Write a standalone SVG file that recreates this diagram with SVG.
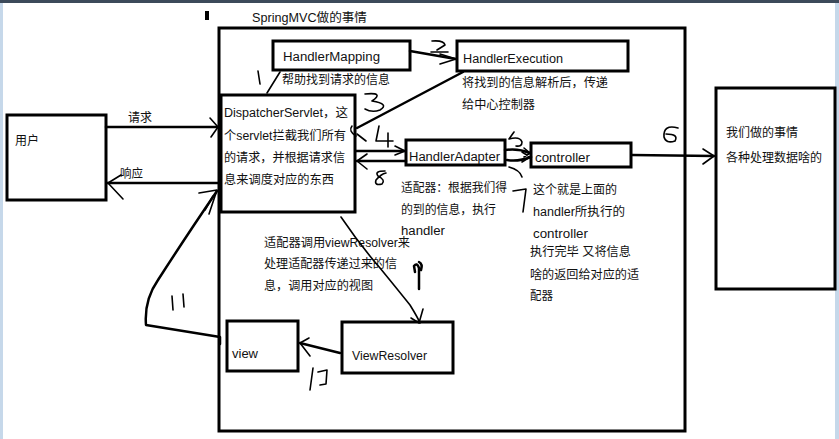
<svg xmlns="http://www.w3.org/2000/svg" width="839" height="439" viewBox="0 0 839 439">
<style>
.box{fill:#fff;stroke:#000;stroke-width:3}
text{font-family:"Liberation Sans","Noto Sans CJK SC",sans-serif;font-size:12.5px;fill:#111}
.c{fill:none;stroke:#000;stroke-width:2.5;stroke-linecap:round;stroke-linejoin:round}
.h{fill:none;stroke:#000;stroke-width:1.6;stroke-linecap:round;stroke-linejoin:round}
</style>
<rect x="0" y="0" width="839" height="439" fill="#fff"/>
<rect x="0" y="0" width="839" height="3" fill="#3c4a5a"/>
<rect x="0" y="3" width="3" height="436" fill="#c6d8ea"/>
<rect x="835" y="3" width="4" height="436" fill="#c6d8ea"/>
<rect x="205" y="11" width="4" height="9" fill="#000"/>
<text x="252" y="22" textLength="115" lengthAdjust="spacingAndGlyphs">SpringMVC做的事情</text>

<g id="container"><rect class="box" x="219" y="28" width="466" height="403"/></g>

<g id="user"><rect class="box" x="7" y="115" width="99" height="85"/><text x="15" y="145" textLength="24" lengthAdjust="spacingAndGlyphs">用户</text></g>
<g id="dispatcher"><rect class="box" x="221" y="95" width="134" height="117"/>
<text x="224" y="117" textLength="124" lengthAdjust="spacingAndGlyphs">DispatcherServlet，这</text>
<text x="224" y="140" textLength="122" lengthAdjust="spacingAndGlyphs">个servlet拦截我们所有</text>
<text x="224" y="162" textLength="121" lengthAdjust="spacingAndGlyphs">的请求，并根据请求信</text>
<text x="224" y="184" textLength="110" lengthAdjust="spacingAndGlyphs">息来调度对应的东西</text></g>
<g id="handlerMapping"><rect class="box" x="273" y="41" width="137" height="29"/><text x="283" y="61" textLength="97" lengthAdjust="spacingAndGlyphs">HandlerMapping</text></g>
<text x="282" y="84" textLength="108" lengthAdjust="spacingAndGlyphs">帮助找到请求的信息</text>
<g id="handlerExecution"><rect class="box" x="457" y="41" width="171" height="30"/><text x="463" y="63" textLength="100" lengthAdjust="spacingAndGlyphs">HandlerExecution</text></g>
<text x="462" y="87" textLength="146" lengthAdjust="spacingAndGlyphs">将找到的信息解析后，传递</text>
<text x="462" y="109" textLength="73" lengthAdjust="spacingAndGlyphs">给中心控制器</text>
<g id="handlerAdapter"><rect class="box" x="406" y="140" width="99" height="25"/><text x="409" y="161" textLength="91" lengthAdjust="spacingAndGlyphs">HandlerAdapter</text></g>
<g id="controller"><rect class="box" x="531" y="143" width="100" height="24"/><text x="535" y="162" textLength="55" lengthAdjust="spacingAndGlyphs">controller</text></g>
<g id="rightBox"><rect class="box" x="716" y="88" width="119" height="201"/>
<text x="726" y="137" textLength="72" lengthAdjust="spacingAndGlyphs">我们做的事情</text>
<text x="726" y="162" textLength="96" lengthAdjust="spacingAndGlyphs">各种处理数据啥的</text></g>
<text x="401" y="192" textLength="106" lengthAdjust="spacingAndGlyphs">适配器：根据我们得</text>
<text x="401" y="214" textLength="95" lengthAdjust="spacingAndGlyphs">的到的信息，执行</text>
<text x="401" y="235" textLength="44" lengthAdjust="spacingAndGlyphs">handler</text>
<text x="533" y="194" textLength="84" lengthAdjust="spacingAndGlyphs">这个就是上面的</text>
<text x="533" y="216" textLength="92" lengthAdjust="spacingAndGlyphs">handler所执行的</text>
<text x="533" y="238" textLength="55" lengthAdjust="spacingAndGlyphs">controller</text>
<text x="530" y="256" textLength="101" lengthAdjust="spacingAndGlyphs">执行完毕 又将信息</text>
<text x="530" y="279" textLength="109" lengthAdjust="spacingAndGlyphs">啥的返回给对应的适</text>
<text x="530" y="300" textLength="23" lengthAdjust="spacingAndGlyphs">配器</text>
<text x="264" y="247" textLength="146" lengthAdjust="spacingAndGlyphs">适配器调用viewResolver来</text>
<text x="264" y="268" textLength="133" lengthAdjust="spacingAndGlyphs">处理适配器传递过来的信</text>
<text x="264" y="290" textLength="109" lengthAdjust="spacingAndGlyphs">息，调用对应的视图</text>
<g id="viewResolver"><rect class="box" x="342" y="322" width="111" height="51"/><text x="352" y="360" textLength="75" lengthAdjust="spacingAndGlyphs">ViewResolver</text></g>
<g id="view"><rect class="box" x="227" y="321" width="71" height="50"/><text x="232" y="358" textLength="26" lengthAdjust="spacingAndGlyphs">view</text></g>

<g id="connectors">
<text x="128" y="122" textLength="24" lengthAdjust="spacingAndGlyphs">请求</text>
<path class="c" d="M106 127 H218"/>
<path class="h" d="M210 118 L218 127 L211 137"/>
<text x="120" y="178" textLength="23" lengthAdjust="spacingAndGlyphs">响应</text>
<path class="c" d="M219 183 H107"/>
<path class="h" d="M121 175 L108 183 L123 199"/>
<path class="h" d="M280 72 L267 93"/>
<path class="h" d="M258 71 L260 84"/>
<path class="c" d="M410 51 L456 59"/>
<path class="h" d="M440 54 L456 59 L440 64"/>
<path class="h" d="M432 41 Q444 40 445 45 L437 50 M431 52 L448 52"/>
<path class="c" d="M463 72 L357 128"/>
<path class="h" d="M352 126 Q348 131 356 136"/>
<path class="h" d="M357 134 L366 141"/>
<path class="h" d="M365 94 Q385 92 372 101 Q390 104 380 110 Q372 113 365 109"/>
<path class="h" d="M379 126 L376 141 L393 141 M388 133 L388 147"/>
<path class="c" d="M356 151 H405"/>
<path class="h" d="M395 146 L405 151 L395 155"/>
<path class="c" d="M406 161 H357"/>
<path class="h" d="M367 154 L357 161 L367 169"/>
<path class="h" d="M385 171 Q374 171 378 176 Q386 180 382 184 Q374 186 376 180 Q381 174 386 173"/>
<path class="c" d="M505 150 Q518 148 530 153"/>
<path class="c" d="M507 160 Q518 162 531 157"/>
<path class="h" d="M524 148 L530 153 L524 157 M522 152 L530 157 L522 162"/>
<path class="h" d="M514 132 L509 139 Q520 136 522 142 Q522 147 516 146"/>
<path class="h" d="M509 167 Q520 170 522 177"/>
<path class="h" d="M513 191 L526 189 L523 212"/>
<path class="c" d="M632 155 L714 156"/>
<path class="h" d="M703 149 L714 156 L703 164"/>
<path class="h" d="M678 128 Q663 124 664 137 Q666 144 675 141 Q679 134 666 134"/>
<path class="h" d="M341 217 Q360 245 380 268 Q398 290 410 305 Q418 318 420 323"/>
<path class="h" d="M411 318 L419 323 L423 309"/>
<path class="c" d="M419 289 L419 268 Q417 262 414 266 L415 272 M419 262 Q423 264 421 270"/>
<path class="c" d="M340 353 L300 343"/>
<path class="h" d="M309 338 L300 343 L310 356"/>
<path class="h" d="M313 368 L310 390 M318 372 L327 370 L326 384 L320 385"/>
<path class="c" d="M220 344 L220 337 Q190 332 146 325 Q144 300 158 280 Q185 238 217 191"/>
<path class="h" d="M199 193 L217 190 L209 214 M205 210 L213 196"/>
<path class="h" d="M172 296 L173 310 M183 294 L184 307"/>
</g>
</svg>
